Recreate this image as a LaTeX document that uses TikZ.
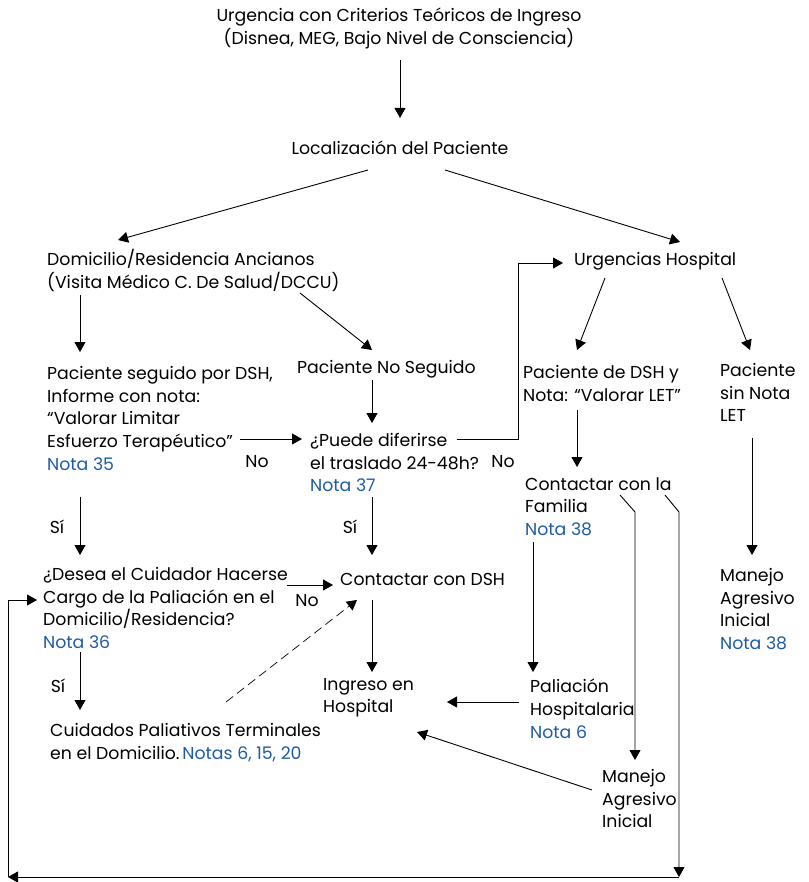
\documentclass[tikz,border=0pt]{standalone}
\usepackage{fontspec}
\setmainfont{Poppins}
\usetikzlibrary{arrows.meta}
\definecolor{nblue}{RGB}{31,91,164}
\tikzset{
  txt/.style={anchor=north west, inner sep=0pt, align=left, font=\fontsize{17.3}{22.7}\selectfont},
  ctxt/.style={anchor=north, inner sep=0pt, align=center, font=\fontsize{17.3}{22.7}\selectfont},
  lbl/.style={anchor=center, inner sep=0pt, font=\fontsize{17.3}{22.7}\selectfont},
  arr/.style={-{Triangle[length=10pt,width=11pt]}, line width=0.9pt},
  ln/.style={line width=0.9pt},
}
\newcommand{\nb}[1]{\textcolor{nblue}{#1}}
\begin{document}
\begin{tikzpicture}[x=1pt,y=-1pt]
\useasboundingbox (0,0) rectangle (808,882);
% nodes
\node[ctxt] (title) at (399,8) {Urgencia con Criterios Teóricos de Ingreso\\(Disnea, MEG, Bajo Nivel de Consciencia)};
\node[ctxt] (loc) at (400,141) {Localización del Paciente};
\node[txt] (dom) at (47,249) {Domicilio/Residencia Ancianos\\(Visita Médico C. De Salud/DCCU)};
\node[txt] (urg) at (574,252) {Urgencias Hospital};
\node[txt] (pns) at (297,360) {Paciente No Seguido};
\node[txt] (pseg) at (47,366) {Paciente seguido por DSH,\\Informe con nota:\\“Valorar Limitar\\Esfuerzo Terapéutico”\\\nb{Nota 35}};
\node[txt] (pued) at (310,433) {¿Puede diferirse\\el traslado 24-48h?\\\nb{Nota 37}};
\node[txt] (pdsh) at (523,365) {Paciente de DSH y\\Nota: “Valorar LET”};
\node[txt] (psin) at (720,363) {Paciente\\sin Nota\\LET};
\node[txt] (cfam) at (525,477) {Contactar con la\\Familia\\\nb{Nota 38}};
\node[txt] (mai1) at (720,568) {Manejo\\Agresivo\\Inicial\\\nb{Nota 38}};
\node[txt] (desea) at (43,567) {¿Desea el Cuidador Hacerse\\Cargo de la Paliación en el\\Domicilio/Residencia?\\\nb{Nota 36}};
\node[txt] (cdsh) at (340,573) {Contactar con DSH};
\node[txt] (ingr) at (323,678) {Ingreso en\\Hospital};
\node[txt] (cuid) at (50,723) {Cuidados Paliativos Terminales\\en el Domicilio.\,\nb{Notas 6, 15, 20}};
\node[txt] (palh) at (530,679) {Paliación\\Hospitalaria\\\nb{Nota 6}};
\node[txt] (mai2) at (602,769) {Manejo\\Agresivo\\Inicial};
\node[lbl] (no1) at (257,462) {No};
\node[lbl] (no2) at (503,462) {No};
\node[lbl] (no3) at (307,601) {No};
\node[lbl] (si1) at (57,527) {Sí};
\node[lbl] (si2) at (350,527) {Sí};
\node[lbl] (si3) at (58,686) {Sí};
% coordinates
\coordinate (a1s) at (400,60);  \coordinate (a1e) at (400,118);
\coordinate (a2s) at (368,170); \coordinate (a2e) at (118,240);
\coordinate (a3s) at (445,170); \coordinate (a3e) at (680,242);
\coordinate (a4s) at (80,295);  \coordinate (a4e) at (80,352);
\coordinate (a5s) at (300,293); \coordinate (a5e) at (372,350);
\coordinate (a6s) at (240,439); \coordinate (a6e) at (302,439);
\coordinate (a7s) at (372,380); \coordinate (a7e) at (372,423);
\coordinate (a8s) at (457,439); \coordinate (a8m) at (518,263); \coordinate (a8e) at (563,263);
\coordinate (a9s) at (605,278); \coordinate (a9e) at (577,350);
\coordinate (a10s) at (722,278); \coordinate (a10e) at (750,350);
\coordinate (a11s) at (577,410); \coordinate (a11e) at (577,467);
\coordinate (a12s) at (752,438); \coordinate (a12e) at (752,555);
\coordinate (a13s) at (80,497); \coordinate (a13e) at (80,555);
\coordinate (a14s) at (372,497); \coordinate (a14e) at (372,555);
\coordinate (a15s) at (287,585); \coordinate (a15e) at (333,585);
\coordinate (a16s) at (372,600); \coordinate (a16e) at (372,672);
\coordinate (a17s) at (80,652); \coordinate (a17e) at (80,710);
\coordinate (a18s) at (226,702); \coordinate (a18e) at (357,600);
\coordinate (a19s) at (533,542); \coordinate (a19e) at (533,672);
\coordinate (a20s) at (519,702); \coordinate (a20e) at (447,702);
\coordinate (a21s) at (592,790); \coordinate (a21e) at (417,732);
\coordinate (a22s) at (620,495); \coordinate (a22m) at (635,512); \coordinate (a22e) at (635,760);
\coordinate (a23s) at (665,495); \coordinate (a23m) at (679,512); \coordinate (a23e) at (679,877);
\coordinate (bl) at (8,877); \coordinate (lu) at (8,600); \coordinate (le) at (37,600);
% connectors
\draw[arr] (a1s) -- (a1e);
\draw[arr] (a2s) -- (a2e);
\draw[arr] (a3s) -- (a3e);
\draw[arr] (a4s) -- (a4e);
\draw[arr] (a5s) -- (a5e);
\draw[arr] (a6s) -- (a6e);
\draw[arr] (a7s) -- (a7e);
\draw[arr] (a8s) -| (a8m) -- (a8e);
\draw[arr] (a9s) -- (a9e);
\draw[arr] (a10s) -- (a10e);
\draw[arr] (a11s) -- (a11e);
\draw[arr] (a12s) -- (a12e);
\draw[arr] (a13s) -- (a13e);
\draw[arr] (a14s) -- (a14e);
\draw[arr] (a15s) -- (a15e);
\draw[arr] (a16s) -- (a16e);
\draw[arr] (a17s) -- (a17e);
\draw[arr, dashed, dash pattern=on 9pt off 5pt, line width=0.7pt] (a18s) -- (a18e);
\draw[arr] (a19s) -- (a19e);
\draw[arr] (a20s) -- (a20e);
\draw[arr] (a21s) -- (a21e);
\draw[arr] (a22s) -- (a22m) -- (a22e);
\draw[arr] (a23s) -- (a23m) -- (a23e);
\draw[arr] (a23e) -- (bl);
\draw[arr] (bl) -- (lu) -- (le);
\end{tikzpicture}
\end{document}
